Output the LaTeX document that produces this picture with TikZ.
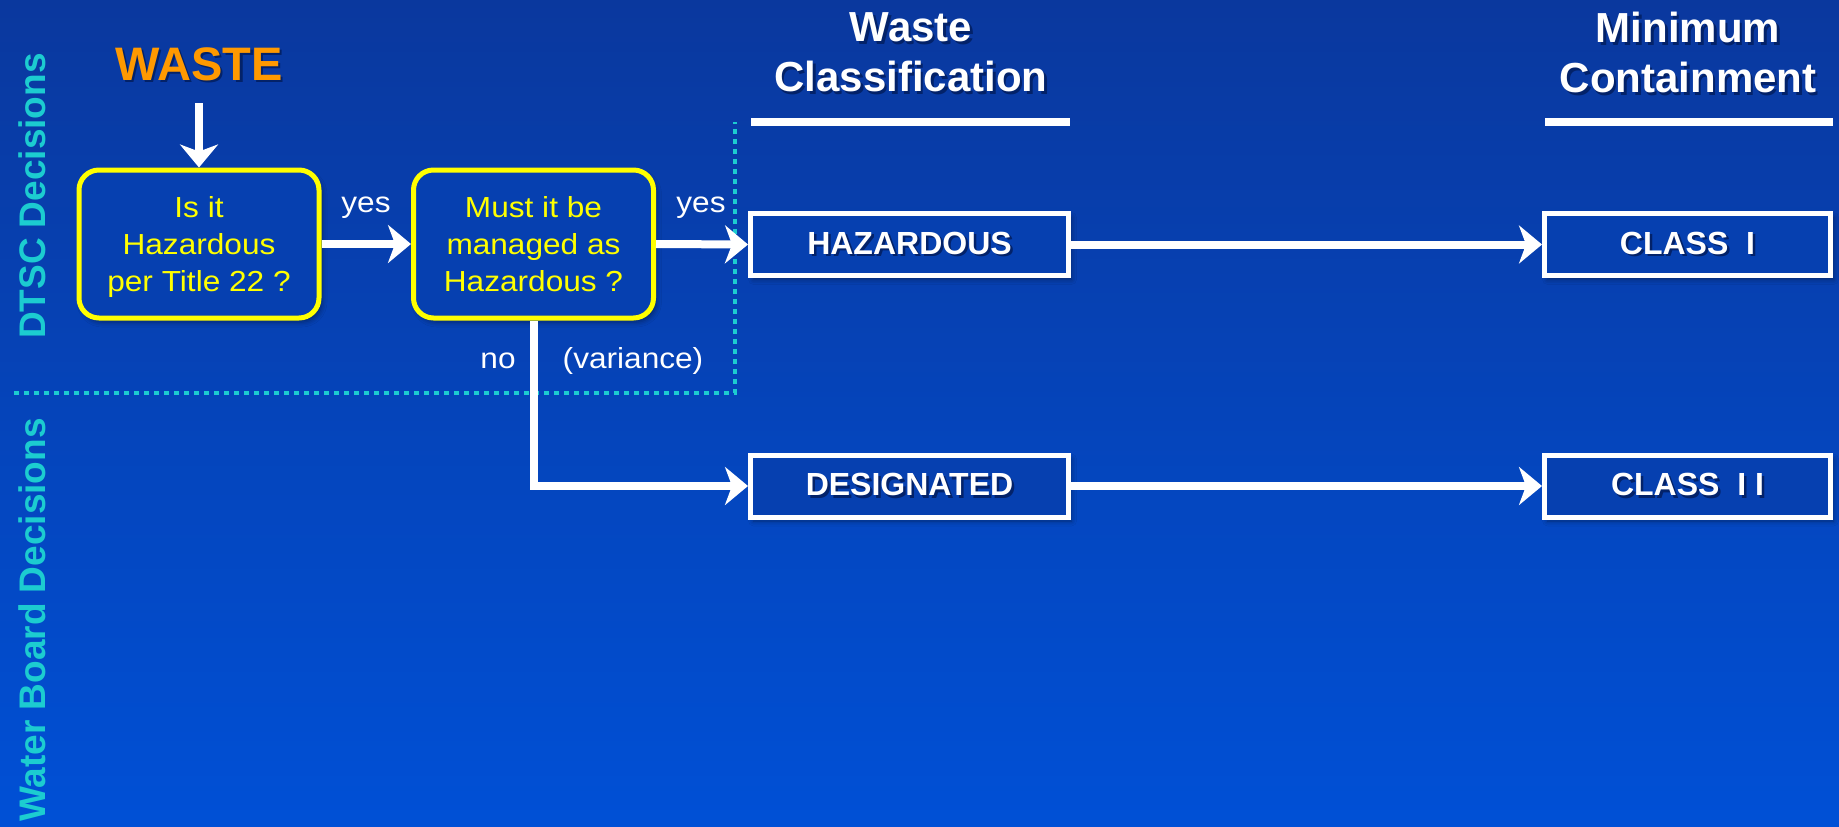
\documentclass[tikz,border=0pt]{standalone}
\usepackage{fontspec}
\setmainfont{Liberation Sans}
\newfontfamily\widefont[FakeStretch=1.09]{Liberation Sans}
\usetikzlibrary{arrows.meta,shadows.blur}

\definecolor{bgtop}{RGB}{10,56,158}
\definecolor{bgbot}{RGB}{0,80,214}
\definecolor{boxfill}{RGB}{6,64,176}
\definecolor{lanecyan}{RGB}{28,204,208}
\definecolor{wasteorange}{RGB}{255,153,0}
\definecolor{qyellow}{RGB}{255,255,0}
\definecolor{txtshadow}{RGB}{3,34,105}

% text with a dark offset copy underneath
\newcommand\shadowed[1]{\leavevmode\rlap{\kern2.5pt\raisebox{-2.5pt}{\color{txtshadow}#1}}#1}

\tikzset{
  question/.style={draw=qyellow, line width=5pt, rounded corners=20pt, fill=boxfill,
    minimum width=240pt, minimum height=148pt, align=center, text=qyellow,
    font=\widefont\fontsize{29}{37}\selectfont, inner sep=0pt, text depth=0pt,
    blur shadow={shadow xshift=3pt, shadow yshift=-4pt, shadow blur radius=5pt, shadow opacity=40}},
  classbox/.style={draw=white, line width=5pt, fill=boxfill, minimum height=62pt,
    text=white, font=\bfseries\fontsize{32}{38}\selectfont, inner sep=0pt,
    blur shadow={shadow xshift=3pt, shadow yshift=-4pt, shadow blur radius=5pt, shadow opacity=40}},
  flow/.style={draw=white, line width=8pt, -{Stealth[length=23pt,width=38pt,inset=7pt]}},
  lbl/.style={text=white, font=\widefont\fontsize{29}{35}\selectfont, inner sep=0pt, anchor=base},
  head/.style={text=white, font=\bfseries\fontsize{42}{50}\selectfont, align=center, inner sep=0pt},
  lane/.style={text=lanecyan, font=\bfseries\fontsize{37}{40}\selectfont, rotate=90,
    anchor=base east, inner sep=0pt},
  divider/.style={draw=lanecyan, line width=4pt, dash pattern=on 5pt off 5pt},
  bar/.style={draw=white, line width=7.5pt},
}

\begin{document}
\begin{tikzpicture}[x=1pt,y=-1pt]
  % background
  \shade[top color=bgtop, bottom color=bgbot] (0,0) rectangle (1839,827);
  \useasboundingbox (0,0) rectangle (1839,827);

  % lane labels and divider
  \node[lane] (dtsc) at (45,53) {DTSC Decisions};
  \node[lane] (wb) at (45,418) {Water Board Decisions};
  \draw[divider] (14,393) -| (735,122);

  % column headings
  \node[head] (hclass) at (911,54) {\shadowed{Waste}\\\shadowed{Classification}};
  \node[head] (hcont) at (1688,54) {\shadowed{Minimum}\\\shadowed{Containment}};
  \draw[bar] (751,122) -- (1070,122);
  \draw[bar] (1545,122) -- (1833,122);

  % start
  \node[text=wasteorange, font=\bfseries\fontsize{47}{50}\selectfont, inner sep=0pt, anchor=base]
    (waste) at (199,80) {\shadowed{WASTE}};

  % decisions
  \node[question] (q1) at (199,244) {Is it\\Hazardous\\per Title 22 ?};
  \node[question] (q2) at (533.5,244) {Must it be\\managed as\\Hazardous ?};

  % classification and containment
  \node[classbox, minimum width=318pt] (haz) at (909.5,244.5) {\shadowed{HAZARDOUS}};
  \node[classbox, minimum width=318pt] (desig) at (909.5,486) {\shadowed{DESIGNATED}};
  \node[classbox, minimum width=286pt] (c1) at (1687.5,244.5) {\shadowed{CLASS~~I}};
  \node[classbox, minimum width=286pt] (c2) at (1687.5,486) {\shadowed{CLASS~~I~I}};

  % connectors
  \draw[flow, shorten <=20pt] (waste.south) -- (q1.north);
  \draw[flow] (q1.east) -- (q2.west);
  \draw[flow] (q2.east) -- (haz.west);
  \draw[flow] (haz.east) -- (c1.west);
  \draw[flow] (q2.south) |- (desig.west);
  \draw[flow] (desig.east) -- (c2.west);

  % connector labels
  \node[lbl] (yes1) at (366,212) {yes};
  \node[lbl] (yes2) at (701,212) {yes};
  \node[lbl] (no) at (498,368) {no};
  \node[lbl] (var) at (633,368) {(variance)};
\end{tikzpicture}
\end{document}
